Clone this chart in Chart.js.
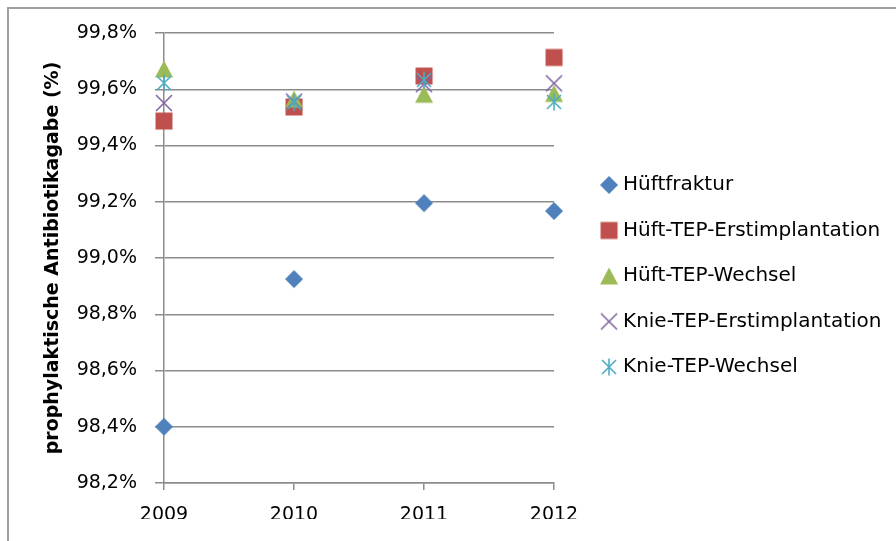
<!DOCTYPE html>
<html>
<head>
<meta charset="utf-8">
<script src="https://cdn.jsdelivr.net/npm/chart.js@4.4.1/dist/chart.umd.min.js"></script>
<style>
    html, body { margin: 0; padding: 0; background: #fff; }
    #wrap { position: relative; width: 896px; height: 541px; overflow: hidden; }
    #frame {
        position: absolute; left: 7px; top: 7px; right: -10px; bottom: -10px;
        border-left: 2px solid #a0a0a0; border-top: 2px solid #a0a0a0;
    }
    #chart { position: absolute; left: 0; top: 0; }
</style>
</head>
<body>
<div id="wrap">
    <div id="frame"></div>
    <canvas id="chart" width="896" height="541"></canvas>
</div>
<script>
/********
 * Data *
 ********/
const years = ['2009', '2010', '2011', '2012'];
const seriesNames = [
    'Hüftfraktur',
    'Hüft-TEP-Erstimplantation',
    'Hüft-TEP-Wechsel',
    'Knie-TEP-Erstimplantation',
    'Knie-TEP-Wechsel'
];
const hueftfraktur = [98.40, 98.925, 99.195, 99.167];
const hueftTepErst = [99.487, 99.537, 99.647, 99.713];
const hueftTepWechsel = [99.672, 99.565, 99.582, 99.585];
const knieTepErst = [99.551, 99.556, 99.618, 99.621];
const knieTepWechsel = [99.622, 99.553, 99.633, 99.555];
const yMin = 98.2;
const yMax = 99.8;
const yStep = 0.2;

const fontFamily = '"DejaVu Sans", sans-serif';
const gridColor = '#8c8c8c';

/***********
 * Markers *
 ***********/
function makeMarker(draw) {
    const c = document.createElement('canvas');
    c.width = 20;
    c.height = 20;
    draw(c.getContext('2d'));
    return c;
}

const diamond = makeMarker(ctx => {
    ctx.fillStyle = '#4F81BD';
    ctx.beginPath();
    ctx.moveTo(10, 1); ctx.lineTo(19, 10); ctx.lineTo(10, 19); ctx.lineTo(1, 10);
    ctx.closePath();
    ctx.fill();
});
const square = makeMarker(ctx => {
    ctx.fillStyle = '#C0504D';
    ctx.fillRect(1.5, 1.5, 17, 17);
});
const triangle = makeMarker(ctx => {
    ctx.fillStyle = '#9BBB59';
    ctx.beginPath();
    ctx.moveTo(10, 1.5); ctx.lineTo(19, 18.5); ctx.lineTo(1, 18.5);
    ctx.closePath();
    ctx.fill();
});
const cross = makeMarker(ctx => {
    ctx.strokeStyle = '#8064A2';
    ctx.lineWidth = 1.6;
    ctx.beginPath();
    ctx.moveTo(2, 2); ctx.lineTo(18, 18);
    ctx.moveTo(18, 2); ctx.lineTo(2, 18);
    ctx.stroke();
});
const asterisk = makeMarker(ctx => {
    ctx.strokeStyle = '#4BACC6';
    ctx.lineWidth = 1.6;
    ctx.beginPath();
    ctx.moveTo(3, 3); ctx.lineTo(17, 17);
    ctx.moveTo(17, 3); ctx.lineTo(3, 17);
    ctx.moveTo(10, 1.5); ctx.lineTo(10, 18.5);
    ctx.stroke();
});

const seriesValues = [hueftfraktur, hueftTepErst, hueftTepWechsel, knieTepErst, knieTepWechsel];
const markers = [diamond, square, triangle, cross, asterisk];

/*********
 * Chart *
 *********/
const datasets = seriesNames.map((name, i) => ({
    label: name,
    data: seriesValues[i],
    showLine: false,
    pointStyle: markers[i],
    pointRadius: 9,
    pointHoverRadius: 9,
    order: seriesNames.length - 1 - i, // later series on top, like Excel
    clip: false
}));

// Chart.js caps a side legend at a fraction of the canvas width; lift that cap
const wideLegend = {
    id: 'wideLegend',
    beforeLayout(chart) {
        const legend = chart.legend;
        if (legend && !legend._wide) {
            const update = legend.update.bind(legend);
            legend.update = (maxWidth, maxHeight, margins) => update(400, maxHeight, margins);
            legend._wide = true;
        }
    }
};

new Chart(document.getElementById('chart').getContext('2d'), {
    type: 'line',
    data: { labels: years, datasets: datasets },
    plugins: [wideLegend],
    options: {
        responsive: false,
        animation: false,
        events: [],
        layout: { padding: { top: 33, bottom: 22, left: 0, right: 4.5 } },
        plugins: {
            tooltip: { enabled: false },
            legend: {
                position: 'right',
                align: 'center',
                labels: {
                    usePointStyle: true,
                    boxWidth: 8,
                    padding: 25.5,
                    color: '#000',
                    font: { family: fontFamily, size: 20 },
                    sort: (a, b) => a.datasetIndex - b.datasetIndex
                }
            }
        },
        scales: {
            x: {
                grid: { drawOnChartArea: false, tickLength: 7, color: gridColor, lineWidth: 1.5 },
                border: { color: gridColor, width: 1.5 },
                ticks: { padding: 14, color: '#000', font: { family: fontFamily, size: 19 } },
                afterFit: scale => { scale.height = 36; }
            },
            y: {
                min: yMin,
                max: yMax,
                grid: { tickLength: 9, color: gridColor, lineWidth: 1.5 },
                border: { color: gridColor, width: 1.5 },
                ticks: {
                    stepSize: yStep,
                    padding: 18,
                    color: '#000',
                    font: { family: fontFamily, size: 19 },
                    callback: value => value.toFixed(1).replace('.', ',') + '%'
                },
                title: {
                    display: true,
                    text: 'prophylaktische Antibiotikagabe (%)',
                    color: '#000',
                    font: { family: fontFamily, size: 19, weight: 'bold' },
                    padding: { top: 42, bottom: 0 }
                },
                afterFit: scale => { scale.width = 164; }
            },
            // empty axis, only keeps the gap between plot and legend
            spacer: {
                type: 'linear',
                position: 'right',
                grid: { display: false },
                ticks: { display: false },
                border: { display: false },
                afterFit: scale => { scale.width = 25.5; }
            }
        }
    }
});
</script>
</body>
</html>
